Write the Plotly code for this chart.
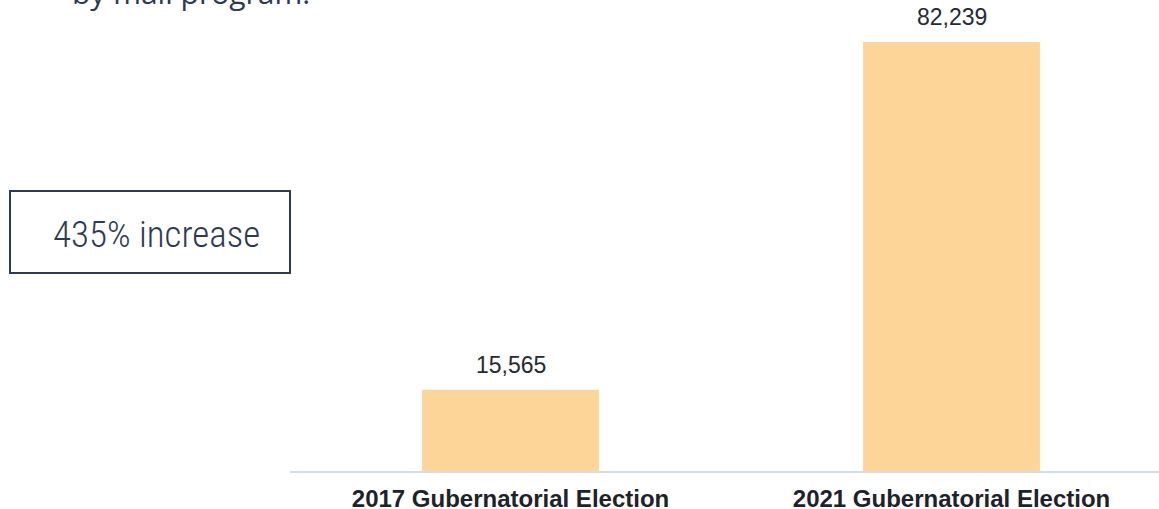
import plotly.graph_objects as go

categories = ["2017 Gubernatorial Election", "2021 Gubernatorial Election"]
values = [15565, 82239]
value_labels = ["15,565", "82,239"]
increase_text = "435% increase"
subtitle_text = "by mail program."

W, H = 1159, 509
L, R, T, B = 290, 0, 20, 38
PW, PH = W - L - R, H - T - B

def px_x(px):
    return (px - L) / PW

def px_y(py):
    return (H - B - py) / PH

BAR = "#FDD598"
DARK = "#2E3A52"

fig = go.Figure()
fig.add_trace(go.Bar(
    x=[0, 1], y=values, width=0.401,
    marker=dict(color=BAR, line=dict(width=0)),
    hoverinfo="skip",
))

for i, (v, t) in enumerate(zip(values, value_labels)):
    fig.add_annotation(x=i, y=v, xref="x", yref="y", text=t, showarrow=False,
                       yanchor="bottom", yshift=10,
                       font=dict(family="Arial, Liberation Sans", size=23, color="#262a33"))

fig.add_shape(type="rect", xref="paper", yref="paper",
              x0=px_x(10), x1=px_x(290), y0=px_y(273), y1=px_y(191),
              line=dict(color=DARK, width=2), fillcolor="rgba(0,0,0,0)")
fig.add_annotation(x=px_x(156.5), y=px_y(234), xref="paper", yref="paper",
                   text=increase_text, showarrow=False, xanchor="center", yanchor="middle",
                   font=dict(family="Roboto Condensed, Liberation Sans Narrow, Roboto", size=37,
                             color=DARK, weight=300))

fig.add_annotation(x=px_x(70), y=px_y(15), xref="paper", yref="paper",
                   text=subtitle_text, showarrow=False, xanchor="left", yanchor="bottom",
                   font=dict(family="Open Sans", size=30, color=DARK, weight=400))

fig.update_layout(
    width=W, height=H,
    margin=dict(l=L, r=R, t=T, b=B, pad=0, autoexpand=False),
    paper_bgcolor="white", plot_bgcolor="white",
    showlegend=False,
    xaxis=dict(range=[-0.5, 1.4705], tickmode="array", tickvals=[0, 1], ticktext=categories,
               automargin=False,
               showgrid=False, zeroline=False, showline=True, linecolor="#D6DCE8", linewidth=2,
               ticks="", ticklabelstandoff=5,
               tickfont=dict(family="Arial, Liberation Sans", size=24, color="#1E222B", weight="bold"),
               fixedrange=True),
    yaxis=dict(range=[0, 86460], automargin=False, showgrid=False, zeroline=False, showline=False,
               showticklabels=False, ticks="", fixedrange=True),
)

post = (
    "document.documentElement.style.margin='0';"
    "document.documentElement.style.overflow='hidden';"
    "document.body.style.margin='0';"
    "document.body.style.overflow='hidden';"
)
fig.write_html("out.html", config={"displayModeBar": False}, post_script=post)
